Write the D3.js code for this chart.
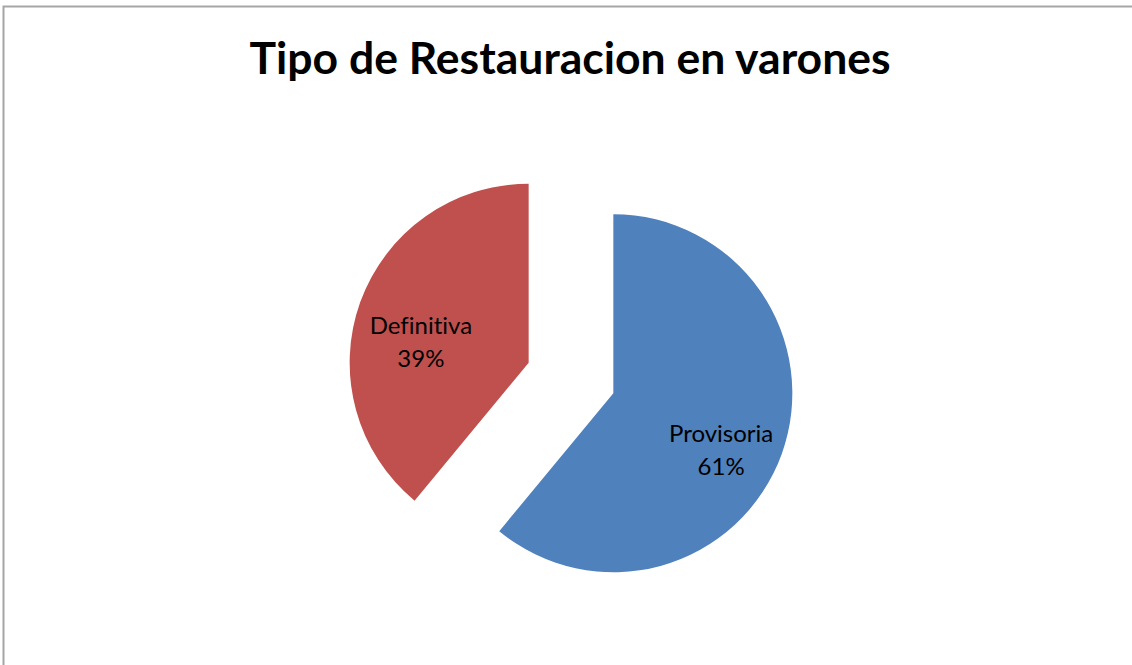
<!DOCTYPE html>
<html>
<head>
<meta charset="utf-8">
<script src="https://cdn.jsdelivr.net/npm/d3@7"></script>
<style>
  body { margin: 0; background: #fff; }
  svg { display: block; font-family: Lato, "Open Sans", sans-serif; font-variant-ligatures: none; }
</style>
</head>
<body>
<div id="chart"></div>
<script>
var titleText = "Tipo de Restauracion en varones"
var categories = ["Provisoria", "Definitiva"]
var values = [61, 39]
var colors = ["#4f81bd", "#c0504d"]

var width = 1132, height = 665
var radius = 179, explode = 45
var cx = 571, cy = 378

var svg = d3.select("#chart").append("svg")
  .attr("width", width)
  .attr("height", height)

// outer chart frame (runs off the right and bottom edge)
svg.append("rect")
  .attr("x", 3.5).attr("y", 6.5)
  .attr("width", width + 10).attr("height", height + 10)
  .style("fill", "none")
  .style("stroke", "#a6a6a6")
  .style("stroke-width", "2px")

svg.append("text")
  .attr("x", 570).attr("y", 74)
  .style("text-anchor", "middle")
  .style("font-weight", "bold")
  .style("font-size", "44.5px")
  .text(titleText)

var data = categories.map(function(c, i){ return {name: c, value: values[i], color: colors[i]} })
var total = d3.sum(values)

var pie = d3.pie().sort(null).value(function(d){ return d.value })
var arc = d3.arc().innerRadius(0).outerRadius(radius)
var labelArc = d3.arc().innerRadius(radius * 0.64).outerRadius(radius * 0.64)

var g = svg.append("g").attr("transform", "translate(" + cx + "," + cy + ")")

// exploded slices: each one pushed out along its mid angle
var slice = g.selectAll(".slice").data(pie(data)).enter().append("g")
  .attr("class", "slice")
  .attr("transform", function(d){
    var a = (d.startAngle + d.endAngle) / 2
    return "translate(" + (Math.sin(a) * explode) + "," + (-Math.cos(a) * explode) + ")"
  })

slice.append("path")
  .attr("d", arc)
  .style("fill", function(d){ return d.data.color })

var lbl = slice.append("text")
  .attr("transform", function(d){ return "translate(" + labelArc.centroid(d) + ")" })
  .style("text-anchor", "middle")
  .style("font-size", "24px")
  .style("fill", "#000")
lbl.append("tspan").attr("x", 0).attr("dy", "0.4em").text(function(d){ return d.data.name })
lbl.append("tspan").attr("x", 0).attr("dy", "1.4em").text(function(d){ return Math.round(d.data.value / total * 100) + "%" })
</script>
</body>
</html>
